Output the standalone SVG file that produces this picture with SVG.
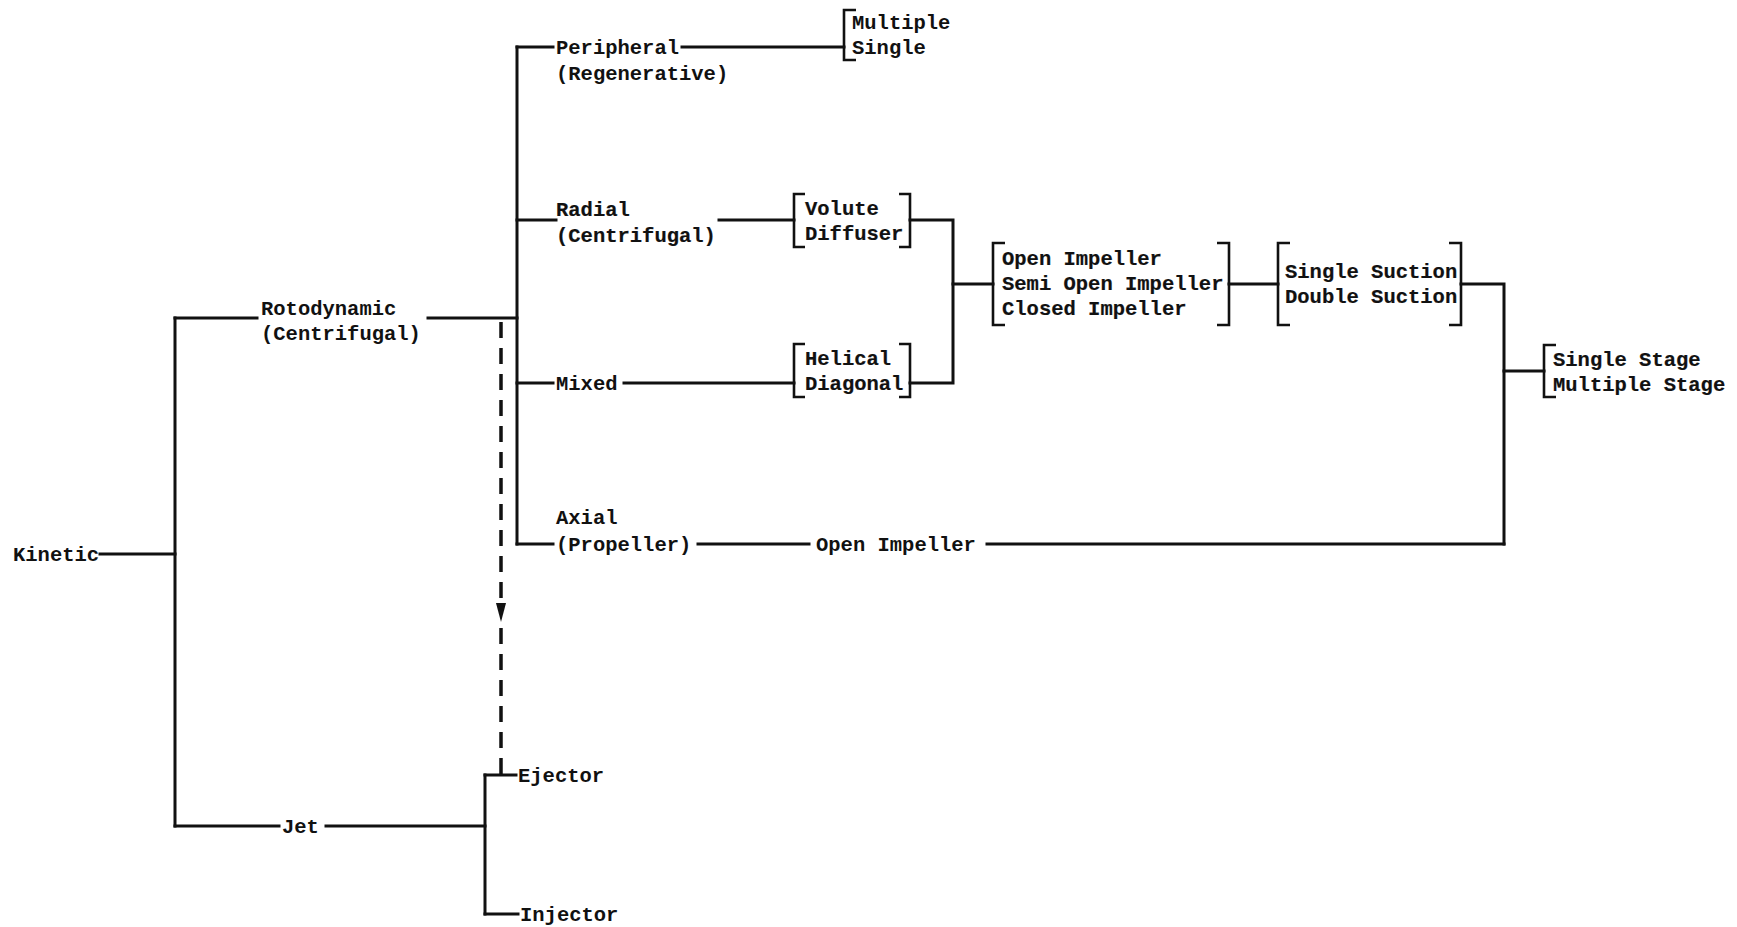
<svg xmlns="http://www.w3.org/2000/svg" width="1737" height="927" viewBox="0 0 1737 927">
<defs>
<style>
text{font-family:"Liberation Mono","DejaVu Sans Mono",monospace;font-size:20.5px;fill:#111;}
.b{font-weight:bold;}
.n{font-weight:bold;stroke:#111;stroke-width:0.2;}
.ln{stroke:#111;stroke-width:3;fill:none;stroke-linecap:square;}
.br{stroke:#111;stroke-width:2.6;fill:none;}
.ds{stroke:#111;stroke-width:3.5;fill:none;stroke-dasharray:16 10;}
</style>
</defs>
<rect width="1737" height="927" fill="#fff"/>
<g id="connectors">
<path class="ln" d="M100,554 H175"/>
<path class="ln" d="M175,318 V826"/>
<path class="ln" d="M175,318 H257"/>
<path class="ln" d="M428,318 H517"/>
<path class="ln" d="M517,47 V544"/>
<path class="ln" d="M517,47 H553"/>
<path class="ln" d="M682,47 H844"/>
<path class="ln" d="M517,220 H556"/>
<path class="ln" d="M719,220 H794"/>
<path class="ln" d="M910,220 H953 V383 H910"/>
<path class="ln" d="M953,284 H993"/>
<path class="ln" d="M517,383 H553"/>
<path class="ln" d="M624,383 H794"/>
<path class="ln" d="M1229,284 H1278"/>
<path class="ln" d="M1461,284 H1504 V544"/>
<path class="ln" d="M1504,371 H1544"/>
<path class="ln" d="M517,544 H553"/>
<path class="ln" d="M698,544 H809"/>
<path class="ln" d="M987,544 H1504"/>
<path class="ds" d="M501,322 V600"/>
<path d="M496,603 L506,603 L501,622 Z" fill="#111"/>
<path class="ds" d="M501,628 V775"/>
<path class="ln" d="M175,826 H279"/>
<path class="ln" d="M326,826 H485"/>
<path class="ln" d="M485,775 V914"/>
<path class="ln" d="M485,775 H516"/>
<path class="ln" d="M485,914 H518"/>
</g>
<g id="kinetic"><text class="b" x="13" y="561">Kinetic</text></g>
<g id="rotodynamic"><text class="b" x="261" y="315">Rotodynamic</text><text class="b" x="261" y="340">(Centrifugal)</text></g>
<g id="peripheral"><text class="b" x="556" y="54">Peripheral</text><text class="b" x="556" y="80">(Regenerative)</text></g>
<g id="multiple-single"><path class="br" d="M856,10 H844 V60 H856"/><text class="b" x="852" y="29">Multiple</text><text class="b" x="852" y="54">Single</text></g>
<g id="radial"><text class="n" x="556" y="216">Radial</text><text class="n" x="556" y="242">(Centrifugal)</text></g>
<g id="volute-diffuser"><path class="br" d="M805,194 H794 V247 H805"/><path class="br" d="M899,194 H910 V247 H899"/><text class="n" x="805" y="215">Volute</text><text class="n" x="805" y="240">Diffuser</text></g>
<g id="mixed"><text class="b" x="556" y="390">Mixed</text></g>
<g id="helical-diagonal"><path class="br" d="M805,344 H794 V397 H805"/><path class="br" d="M899,344 H910 V397 H899"/><text class="n" x="805" y="365">Helical</text><text class="n" x="805" y="390">Diagonal</text></g>
<g id="impeller-types"><path class="br" d="M1005,243 H993 V325 H1005"/><path class="br" d="M1217,243 H1229 V325 H1217"/><text class="n" x="1002" y="265">Open Impeller</text><text class="n" x="1002" y="290">Semi Open Impeller</text><text class="n" x="1002" y="315">Closed Impeller</text></g>
<g id="suction"><path class="br" d="M1290,243 H1278 V325 H1290"/><path class="br" d="M1449,243 H1461 V325 H1449"/><text class="n" x="1285" y="278">Single Suction</text><text class="n" x="1285" y="303">Double Suction</text></g>
<g id="stage"><path class="br" d="M1556,345 H1544 V397 H1556"/><text class="n" x="1553" y="366">Single Stage</text><text class="n" x="1553" y="391">Multiple Stage</text></g>
<g id="axial"><text class="b" x="556" y="524">Axial</text><text class="b" x="556" y="551">(Propeller)</text></g>
<g id="axial-open-impeller"><text class="b" x="816" y="551">Open Impeller</text></g>
<g id="jet"><text class="b" x="282" y="833">Jet</text></g>
<g id="ejector"><text class="b" x="518" y="782">Ejector</text></g>
<g id="injector"><text class="b" x="520" y="921">Injector</text></g>
</svg>
